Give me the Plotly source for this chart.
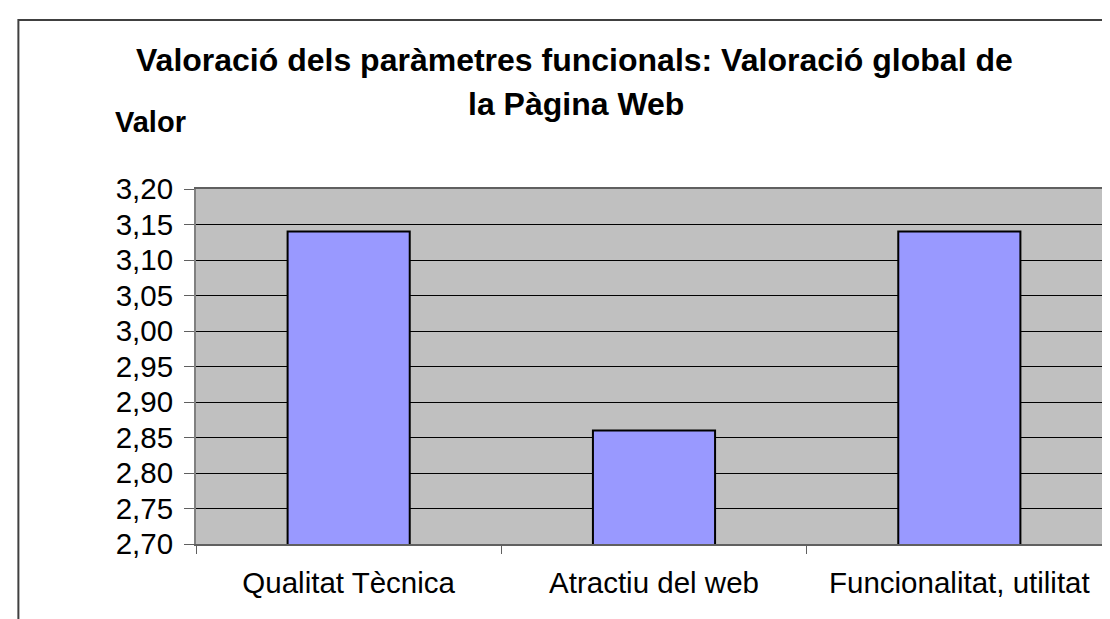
import plotly.graph_objects as go

categories = ["Qualitat Tècnica", "Atractiu del web", "Funcionalitat, utilitat"]
values = [3.14, 2.86, 3.14]
y_ticks = [2.70, 2.75, 2.80, 2.85, 2.90, 2.95, 3.00, 3.05, 3.10, 3.15, 3.20]
title_line1 = "Valoració dels paràmetres funcionals: Valoració global de"
title_line2 = "la Pàgina Web"
y_title = "Valor"

W, H = 1110, 619
L, R, T, B = 188, 4, 181, 83
pw, ph = W - L - R, H - T - B

def px(x):
    return (x - L) / pw

def py(y):
    return (H - B - y) / ph

FONT = "Liberation Sans, Arial, sans-serif"

fig = go.Figure(go.Bar(
    x=categories, y=values,
    marker=dict(color="#9999FF", line=dict(color="black", width=2)),
    width=0.4,
))

fig.update_layout(
    width=W, height=H,
    margin=dict(l=L, r=R, t=T, b=B, pad=0),
    paper_bgcolor="white",
    plot_bgcolor="#C0C0C0",
    separators=",.",
    showlegend=False,
    font=dict(family=FONT, color="black", size=29.5),
    bargap=0.6,
)

fig.update_yaxes(
    range=[2.70, 3.20], tickvals=y_ticks, tickformat=".2f",
    showgrid=True, gridcolor="black", gridwidth=1,
    ticks="outside", ticklen=10, tickcolor="#606060", tickwidth=1,
    showline=True, linecolor="#808080", linewidth=2, mirror=True,
    tickfont=dict(size=29.5, family=FONT, color="black"),
    ticklabelstandoff=5, zeroline=False,
)
fig.update_xaxes(
    tickson="boundaries", ticks="outside", ticklen=8, tickcolor="#606060", tickwidth=1,
    showline=True, linecolor="#606060", linewidth=2, mirror=True,
    tickfont=dict(size=29.5, family=FONT, color="black"),
    ticklabelstandoff=12, showgrid=False,
)

fig.add_shape(type="rect", xref="paper", yref="paper",
              x0=px(10), x1=px(1125), y0=py(640), y1=py(12),
              line=dict(color="#404040", width=2), fillcolor="rgba(0,0,0,0)", layer="above")

fig.add_annotation(text="<b>%s</b>" % title_line1, xref="paper", yref="paper",
                   x=px(567.5), y=py(52), xanchor="center", yanchor="middle",
                   showarrow=False, font=dict(size=32, family=FONT, color="black"))
fig.add_annotation(text="<b>%s</b>" % title_line2, xref="paper", yref="paper",
                   x=px(568.5), y=py(96), xanchor="center", yanchor="middle",
                   showarrow=False, font=dict(size=32, family=FONT, color="black"))
fig.add_annotation(text="<b>%s</b>" % y_title, xref="paper", yref="paper",
                   x=px(142.5), y=py(114), xanchor="center", yanchor="middle",
                   showarrow=False, font=dict(size=29, family=FONT, color="black"))

fig.write_html("out.html")
